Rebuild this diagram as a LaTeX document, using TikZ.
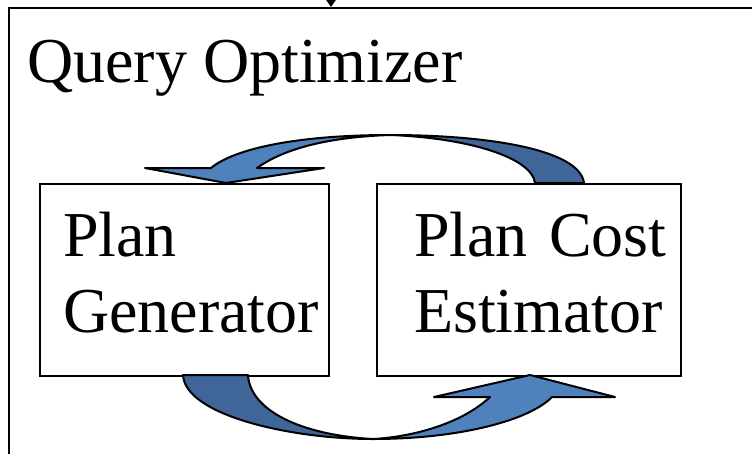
\documentclass[tikz,border=0pt]{standalone}
\usepackage{fontspec}
\setmainfont{Liberation Serif}
\usetikzlibrary{arrows.meta}
\definecolor{backblue}{RGB}{64,102,153}
\definecolor{frontblue}{RGB}{79,129,189}
\tikzset{
  bigtext/.style={font=\fontsize{64}{76}\selectfont},
  planbox/.style={draw, line width=2pt, fill=white, bigtext, align=left,
    anchor=north west, minimum height=192pt, text depth=91pt},
  ribbon/.style={draw, line width=2pt, line join=round}
}
\begin{document}
\begin{tikzpicture}[x=1pt,y=-1pt]
  \clip (0,0) rectangle (752,453);

  % outer frame
  \node[draw, line width=2pt, anchor=north west, minimum width=800pt,
    minimum height=500pt, inner sep=0pt] (opt) at (7.5,7) {};
  \coordinate (in) at (331,-30);
  \draw[line width=2pt, -{Triangle[length=9pt,width=12pt]}] (in) -- (in |- opt.north);
  \node[bigtext, anchor=base west, inner sep=0pt] (title) at (27,82) {Query Optimizer};

  % the two parts
  \node[planbox, inner xsep=23pt, text width=243pt] (gen) at (39,182.5) {Plan\\Generator};
  \node[planbox, inner xsep=37pt, text width=230pt] (est) at (376,182.5) {Plan~Cost\\Estimator};

  % upper curved arrow
  \filldraw[ribbon, fill=backblue] (584,183) .. controls (580,150) and (490,135) .. (390,135)
    .. controls (470,138) and (532,158) .. (535,183) -- cycle;
  \filldraw[ribbon, fill=frontblue] (390,135) .. controls (300,135) and (235,148) .. (211,168)
    -- (145,168) -- (226,183) -- (324,168) -- (257,168)
    .. controls (285,148) and (330,137) .. (390,135) -- cycle;

  % lower curved arrow
  \filldraw[ribbon, fill=backblue] (183,375) .. controls (185,415) and (290,439) .. (373,439)
    .. controls (300,435) and (250,410) .. (248,375) -- cycle;
  \filldraw[ribbon, fill=frontblue] (373,439) .. controls (460,439) and (530,420) .. (552,397)
    -- (615,397) -- (530,375) -- (434,397) -- (490,397)
    .. controls (460,425) and (410,437) .. (373,439) -- cycle;
\end{tikzpicture}
\end{document}
